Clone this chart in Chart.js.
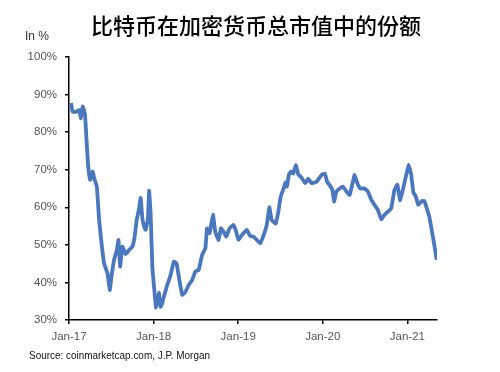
<!DOCTYPE html>
<html>
<head>
<meta charset="utf-8">
<script src="https://cdn.jsdelivr.net/npm/chart.js@4.4.1/dist/chart.umd.min.js"></script>
<style>
  html, body { margin: 0; padding: 0; background: #fff; }
  canvas { display: block; }
</style>
</head>
<body>
<canvas id="shareChart" width="500" height="372"></canvas>
<script>
// decimal years
const dates = [
  2017.024, 2017.044, 2017.082, 2017.121, 2017.141, 2017.161, 2017.188, 2017.212,
  2017.227, 2017.251, 2017.279, 2017.298, 2017.329, 2017.356, 2017.385, 2017.415,
  2017.455, 2017.482, 2017.502, 2017.533, 2017.565, 2017.585, 2017.604, 2017.632,
  2017.671, 2017.709, 2017.749, 2017.776, 2017.800, 2017.827, 2017.847, 2017.867,
  2017.886, 2017.906, 2017.933, 2017.947, 2017.965, 2017.985, 2018.012, 2018.029,
  2018.062, 2018.082, 2018.102, 2018.121, 2018.161, 2018.200, 2018.239, 2018.271,
  2018.298, 2018.338, 2018.376, 2018.415, 2018.455, 2018.494, 2018.533, 2018.573,
  2018.612, 2018.632, 2018.662, 2018.702, 2018.729, 2018.768, 2018.796, 2018.827,
  2018.859, 2018.898, 2018.945, 2018.976, 2019.004, 2019.044, 2019.102, 2019.141,
  2019.180, 2019.220, 2019.259, 2019.298, 2019.338, 2019.368, 2019.396, 2019.444,
  2019.474, 2019.502, 2019.533, 2019.559, 2019.576, 2019.600, 2019.624, 2019.651,
  2019.682, 2019.709, 2019.749, 2019.792, 2019.827, 2019.867, 2019.926, 2019.985,
  2020.024, 2020.051, 2020.082, 2020.114, 2020.133, 2020.161, 2020.200, 2020.239,
  2020.279, 2020.318, 2020.356, 2020.376, 2020.408, 2020.444, 2020.494, 2020.533,
  2020.573, 2020.612, 2020.651, 2020.691, 2020.729, 2020.768, 2020.808, 2020.847,
  2020.882, 2020.912, 2020.945, 2020.985, 2021.014, 2021.044, 2021.071, 2021.100,
  2021.129, 2021.171, 2021.200, 2021.229, 2021.259, 2021.291, 2021.318, 2021.347
];

// bitcoin share of total crypto market cap, %
const btcShare = [
  87.7, 85.4, 85.4, 85.9, 83.7, 86.8, 85.0, 76.1,
  70.8, 67.3, 69.5, 67.7, 65.5, 56.6, 50.4, 45.1,
  42.4, 38.0, 41.5, 46.0, 48.6, 51.3, 44.2, 49.5,
  47.5, 48.6, 49.5, 52.2, 56.6, 59.5, 62.5, 57.0,
  55.0, 54.0, 57.0, 64.4, 58.4, 44.2, 37.1, 33.3,
  37.3, 33.5, 34.4, 36.2, 39.3, 41.9, 45.5, 45.1,
  41.5, 36.7, 37.5, 39.3, 40.6, 42.9, 43.3, 47.3,
  49.1, 54.4, 53.1, 58.0, 53.5, 51.3, 54.4, 53.5,
  52.2, 54.4, 55.3, 53.5, 51.3, 52.6, 54.0, 52.4,
  52.2, 51.3, 50.4, 52.4, 55.3, 60.0, 56.6, 55.7,
  58.8, 62.8, 64.8, 66.6, 65.5, 68.8, 69.5, 69.0,
  71.3, 68.8, 67.9, 66.4, 67.6, 66.4, 66.8, 68.6,
  69.0, 66.8, 65.9, 64.6, 61.5, 64.2, 65.0, 65.5,
  64.2, 63.3, 66.8, 68.6, 66.4, 65.0, 65.0, 64.2,
  62.0, 60.6, 59.3, 56.8, 58.0, 58.8, 59.7, 64.6,
  66.0, 61.9, 64.5, 68.5, 71.3, 68.8, 64.0, 62.8,
  60.6, 61.7, 61.7, 59.7, 57.5, 53.5, 50.0, 46.0
];

const xTicks = [2017, 2018, 2019, 2020, 2021];
const xTickLabels = ['Jan-17', 'Jan-18', 'Jan-19', 'Jan-20', 'Jan-21'];
const yTicks = [30, 40, 50, 60, 70, 80, 90, 100];

const titleText = '比特币在加密货币总市值中的份额';
const unitText = 'In %';
const sourceText = 'Source: coinmarketcap.com, J.P. Morgan';

const labelFont = { family: '"Liberation Sans", Arial, sans-serif', size: 11.5 };

// title, unit and source note
const textPlugin = {
  id: 'texts',
  afterDraw(chart) {
    const ctx = chart.ctx;
    ctx.save();
    ctx.fillStyle = '#000';
    ctx.font = '500 22px "Noto Sans CJK SC", sans-serif';
    ctx.textAlign = 'center';
    ctx.textBaseline = 'middle';
    ctx.fillText(titleText, 256, 26);

    ctx.fillStyle = '#333';
    ctx.font = '12px "Liberation Sans", Arial, sans-serif';
    ctx.textAlign = 'left';
    ctx.fillText(unitText, 25, 37);

    ctx.fillStyle = '#111';
    ctx.font = '11.5px "Liberation Sans", Arial, sans-serif';
    const w = ctx.measureText(sourceText).width;
    ctx.translate(29, 356);
    ctx.scale(181 / w, 1);
    ctx.fillText(sourceText, 0, 0);
    ctx.restore();
  }
};

const ctx = document.getElementById('shareChart').getContext('2d');
new Chart(ctx, {
  type: 'line',
  data: {
    datasets: [{
      label: 'BTC share',
      data: dates.map((d, i) => ({ x: d, y: btcShare[i] })),
      borderColor: '#4a78bf',
      borderWidth: 3.8,
      pointRadius: 0,
      tension: 0.1,
      fill: false
    }]
  },
  options: {
    responsive: false,
    animation: false,
    devicePixelRatio: 1,
    layout: { padding: { top: 57, right: 63, bottom: 27, left: 0 } },
    plugins: {
      legend: { display: false },
      tooltip: { enabled: false },
      title: { display: false }
    },
    scales: {
      x: {
        type: 'linear',
        min: 2017,
        max: 2021.35,
        afterBuildTicks: s => { s.ticks = xTicks.map(v => ({ value: v })); },
        afterFit: s => { s.height = 25; },
        ticks: {
          callback: (v, i) => xTickLabels[i],
          font: labelFont,
          color: '#555',
          padding: 6,
          maxRotation: 0,
          autoSkip: false
        },
        grid: { drawOnChartArea: false, tickLength: 4, color: '#000', lineWidth: 1.5 },
        border: { color: '#000', width: 1.5 }
      },
      y: {
        min: 30,
        max: 100,
        afterBuildTicks: s => { s.ticks = yTicks.map(v => ({ value: v })); },
        afterFit: s => { s.width = 69; },
        ticks: {
          callback: v => v + '%',
          font: labelFont,
          color: '#555',
          padding: 8
        },
        grid: { drawOnChartArea: false, tickLength: 4, color: '#000', lineWidth: 1.5 },
        border: { color: '#000', width: 1.5 }
      }
    }
  },
  plugins: [textPlugin]
});
</script>
</body>
</html>
